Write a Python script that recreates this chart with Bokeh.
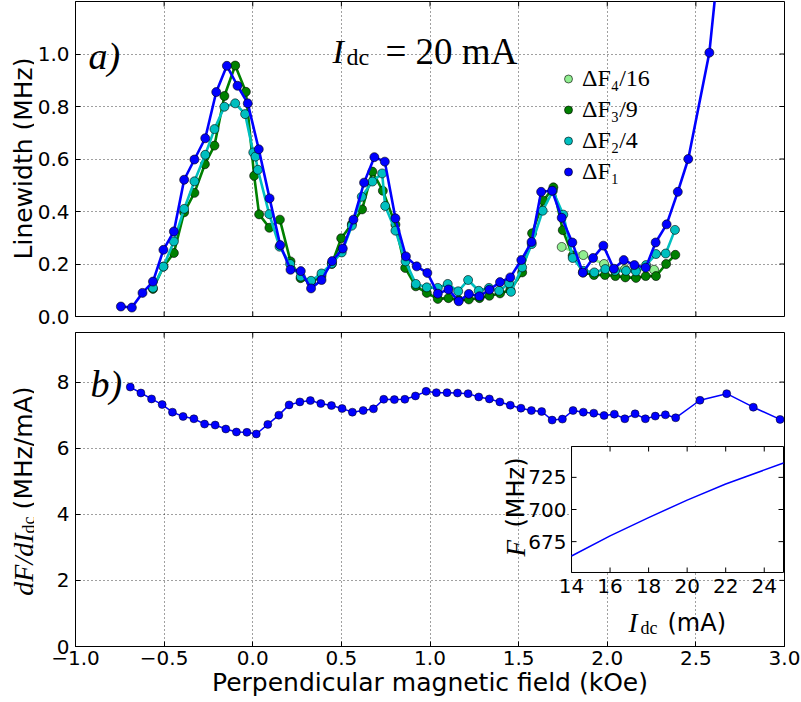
import math
from bokeh.plotting import figure
from bokeh.layouts import column, row
from bokeh.models import (Range1d, FixedTicker, CustomJSTickFormatter,
                          Label, Legend, LegendItem)
from bokeh.core.properties import value
from bokeh.embed import file_html
from bokeh.resources import INLINE

# ---------------- data ----------------
f1_x = [-0.744, -0.682, -0.622, -0.563, -0.504, -0.445, -0.387, -0.329, -0.268, -0.206,
        -0.146, -0.086, -0.028, 0.034, 0.095, 0.155, 0.213, 0.271, 0.329, 0.388,
        0.448, 0.508, 0.568, 0.628, 0.686, 0.745, 0.805, 0.864, 0.925, 0.985,
        1.044, 1.104, 1.162, 1.219, 1.279, 1.335, 1.395, 1.453, 1.515, 1.573,
        1.627, 1.689, 1.743, 1.803, 1.862, 1.920, 1.978, 2.037, 2.093, 2.153,
        2.217, 2.273, 2.335, 2.398, 2.457, 2.576, 2.674]
f1_y = [0.038, 0.034, 0.090, 0.133, 0.254, 0.324, 0.521, 0.598, 0.679, 0.855,
        0.955, 0.879, 0.812, 0.637, 0.450, 0.272, 0.178, 0.173, 0.107, 0.139,
        0.211, 0.259, 0.369, 0.510, 0.607, 0.590, 0.374, 0.229, 0.191, 0.166,
        0.087, 0.103, 0.058, 0.086, 0.077, 0.102, 0.131, 0.149, 0.215, 0.284,
        0.475, 0.479, 0.376, 0.282, 0.167, 0.223, 0.270, 0.182, 0.215, 0.196,
        0.186, 0.282, 0.351, 0.475, 0.600, 1.005, 1.650]
f2_x = [-0.563, -0.504, -0.445, -0.387, -0.329, -0.268, -0.216, -0.160, -0.099, -0.043,
        0.003, 0.015, 0.029, 0.093, 0.151, 0.211, 0.271, 0.329, 0.388, 0.446,
        0.502, 0.559, 0.615, 0.675, 0.730, 0.747, 0.805, 0.862, 0.920, 0.982,
        1.044, 1.100, 1.159, 1.215, 1.275, 1.333, 1.390, 1.446, 1.457, 1.520,
        1.574, 1.636, 1.693, 1.752, 1.805, 1.865, 1.927, 1.989, 2.044, 2.106,
        2.162, 2.219, 2.275, 2.330, 2.382]
f2_y = [0.109, 0.190, 0.286, 0.410, 0.515, 0.616, 0.714, 0.799, 0.812, 0.771,
        0.625, 0.609, 0.559, 0.390, 0.266, 0.200, 0.152, 0.136, 0.164, 0.202,
        0.244, 0.346, 0.456, 0.514, 0.545, 0.421, 0.327, 0.210, 0.124, 0.111,
        0.109, 0.124, 0.096, 0.139, 0.098, 0.109, 0.098, 0.126, 0.094, 0.187,
        0.276, 0.403, 0.479, 0.388, 0.223, 0.174, 0.168, 0.181, 0.174, 0.174,
        0.172, 0.196, 0.238, 0.240, 0.330]
f3_x = [-0.563, -0.504, -0.445, -0.387, -0.329, -0.270, -0.216, -0.160, -0.099, -0.039,
        0.008, 0.036, 0.094, 0.153, 0.213, 0.270, 0.329, 0.388, 0.446, 0.499,
        0.559, 0.617, 0.675, 0.734, 0.805, 0.860, 0.920, 0.982, 1.044, 1.104,
        1.162, 1.219, 1.279, 1.335, 1.395, 1.453, 1.520, 1.576, 1.640, 1.696,
        1.749, 1.805, 1.865, 1.925, 1.987, 2.046, 2.102, 2.162, 2.217, 2.275,
        2.332, 2.384]
f3_y = [0.105, 0.190, 0.242, 0.397, 0.471, 0.580, 0.651, 0.840, 0.956, 0.856,
        0.536, 0.389, 0.338, 0.369, 0.210, 0.146, 0.130, 0.155, 0.200, 0.298,
        0.352, 0.408, 0.552, 0.479, 0.350, 0.185, 0.115, 0.090, 0.067, 0.070,
        0.063, 0.065, 0.070, 0.079, 0.088, 0.101, 0.168, 0.317, 0.441, 0.492,
        0.329, 0.232, 0.168, 0.158, 0.158, 0.154, 0.149, 0.147, 0.154, 0.154,
        0.200, 0.235]
f4_x = [1.743, 1.865, 1.982, 2.100, 2.160, 2.264]
f4_y = [0.265, 0.234, 0.200, 0.180, 0.176, 0.178]

b_x = [-0.691, -0.631, -0.571, -0.511, -0.453, -0.393, -0.332, -0.272, -0.212, -0.152,
       -0.092, -0.033, 0.020, 0.085, 0.147, 0.205, 0.266, 0.325, 0.384, 0.444,
       0.504, 0.562, 0.623, 0.681, 0.739, 0.799, 0.858, 0.918, 0.978, 1.036,
       1.096, 1.155, 1.215, 1.275, 1.335, 1.394, 1.453, 1.513, 1.572, 1.630,
       1.689, 1.747, 1.807, 1.865, 1.924, 1.982, 2.040, 2.099, 2.157, 2.215,
       2.271, 2.328, 2.386, 2.523, 2.674, 2.824, 2.975]
b_y = [7.85, 7.67, 7.49, 7.32, 7.09, 6.96, 6.89, 6.73, 6.70, 6.58,
       6.49, 6.48, 6.43, 6.72, 7.00, 7.31, 7.40, 7.44, 7.35, 7.29,
       7.20, 7.09, 7.14, 7.19, 7.48, 7.47, 7.48, 7.58, 7.72, 7.68,
       7.68, 7.67, 7.65, 7.55, 7.49, 7.40, 7.30, 7.21, 7.14, 7.11,
       6.85, 6.88, 7.14, 7.09, 7.06, 6.99, 7.03, 6.89, 7.04, 6.89,
       6.97, 7.01, 6.92, 7.45, 7.65, 7.24, 6.87]

ins_I = [14, 16, 18, 20, 22, 25]
ins_F = [663.8, 679.5, 693.7, 707.3, 719.8, 736.2]

x_ticks = [-1.0, -0.5, 0.0, 0.5, 1.0, 1.5, 2.0, 2.5, 3.0]
top_y_ticks = [0.0, 0.2, 0.4, 0.6, 0.8, 1.0]
bot_y_ticks = [0, 2, 4, 6, 8]
inset_x_ticks = [14, 16, 18, 20, 22, 24]
inset_y_ticks = [675, 700, 725]
legend_labels = ["\u0394F\u2084/16", "\u0394F\u2083/9", "\u0394F\u2082/4", "\u0394F\u2081"]

# ---------------- style / layout ----------------
SANS = "DejaVu Sans"
SERIF = "Liberation Serif"
TICK_SIZE = "20px"
LABEL_SIZE = "25px"
C_BLUE, C_GREEN, C_CYAN, C_LGREEN = "#0000ff", "#008000", "#00bfbf", "#90ee90"
TICK_PX = 5

X_LIM = (-1.0, 3.0)
TOP_YLIM = (0.0, 1.2)
BOT_YLIM = (0.0, 9.5)
TOTAL_W, TOTAL_H = 801, 702
STRIP_W = 34          # strip holding the y labels, left of both panels
LEFT_B = 41           # left border of each panel (tick labels)
RIGHT_B = 17
PANEL_W = TOTAL_W - STRIP_W
FRAME_W = PANEL_W - LEFT_B - RIGHT_B
TOP_BORDERS = (1, 12)
BOT_BORDERS = (4, 56)
TOP_H = 328
BOT_H = TOTAL_H - TOP_H
TOP_FRAME_H = TOP_H - sum(TOP_BORDERS)
BOT_FRAME_H = BOT_H - sum(BOT_BORDERS)

xfmt = CustomJSTickFormatter(code="return tick.toFixed(1).replace('-', '\u2212');")
yfmt1 = CustomJSTickFormatter(code="return tick.toFixed(1);")


def style(p, xt, yt):
    p.outline_line_color = "black"
    p.outline_line_width = 1
    for ax in p.axis:
        ax.ticker = FixedTicker(ticks=xt if ax in p.below else yt)
        ax.major_tick_in = TICK_PX
        ax.major_tick_out = 0
        ax.minor_tick_in = 0
        ax.minor_tick_out = 0
        ax.axis_line_color = "black"
        ax.major_tick_line_color = "black"
        ax.major_label_text_color = "black"
        ax.major_label_text_font = SANS
        ax.major_label_text_font_size = TICK_SIZE
        ax.major_label_standoff = 6
        ax.axis_label_text_font = SANS
        ax.axis_label_text_font_size = LABEL_SIZE
        ax.axis_label_text_font_style = "normal"
        ax.axis_label_text_color = "black"
    p.xgrid.ticker = FixedTicker(ticks=xt)
    p.ygrid.ticker = FixedTicker(ticks=yt)
    p.grid.grid_line_color = "black"
    p.grid.grid_line_alpha = 0.75
    p.grid.grid_line_dash = "1 3"
    p.grid.grid_line_width = 1


def inner_ticks(p, xt, yt, xlim, ylim, fw, fh, sides, **kw):
    """inward tick marks drawn through the plot's scales"""
    dx = TICK_PX * (xlim[1] - xlim[0]) / fw
    dy = TICK_PX * (ylim[1] - ylim[0]) / fh
    nx, ny = len(xt), len(yt)
    if "bottom" in sides:
        p.segment(x0=xt, y0=[ylim[0]] * nx, x1=xt, y1=[ylim[0] + dy] * nx, line_color="black", **kw)
    if "top" in sides:
        p.segment(x0=xt, y0=[ylim[1]] * nx, x1=xt, y1=[ylim[1] - dy] * nx, line_color="black", **kw)
    if "left" in sides:
        p.segment(x0=[xlim[0]] * ny, y0=yt, x1=[xlim[0] + dx] * ny, y1=yt, line_color="black", **kw)
    if "right" in sides:
        p.segment(x0=[xlim[1]] * ny, y0=yt, x1=[xlim[1] - dx] * ny, y1=yt, line_color="black", **kw)


def lab(p, x, y, text, font=SERIF, size="34px", style_="normal", angle=0.0, align="left"):
    p.add_layout(Label(x=x, y=y, x_units="screen", y_units="screen", text=text,
                       text_font=font, text_font_size=size, text_font_style=style_,
                       text_color="black", text_baseline="alphabetic", text_align=align,
                       angle=angle))


# ---------------- panel a) ----------------
p1 = figure(width=PANEL_W, height=TOP_H, x_range=Range1d(*X_LIM), y_range=Range1d(*TOP_YLIM),
            output_backend="svg", toolbar_location=None, title=None, x_axis_location=None,
            min_border_left=LEFT_B, min_border_right=RIGHT_B,
            min_border_top=TOP_BORDERS[0], min_border_bottom=TOP_BORDERS[1])
style(p1, x_ticks, top_y_ticks)
p1.left[0].formatter = yfmt1
inner_ticks(p1, x_ticks, top_y_ticks, X_LIM, TOP_YLIM, FRAME_W, TOP_FRAME_H, ("bottom", "top", "right"))

renderers = []
for xs, ys, col in [(f4_x, f4_y, C_LGREEN), (f3_x, f3_y, C_GREEN),
                    (f2_x, f2_y, C_CYAN), (f1_x, f1_y, C_BLUE)]:
    p1.line(xs, ys, line_color=col, line_width=2.6)
    r = p1.scatter(xs, ys, size=9, fill_color=col, line_color="black", line_width=0.6)
    renderers.append(r)

legend = Legend(items=[LegendItem(label=t, renderers=[r]) for t, r in zip(legend_labels, renderers)],
                location=(483, 131), orientation="vertical",
                background_fill_alpha=0, border_line_alpha=0, padding=0, margin=0,
                spacing=4, glyph_width=20, glyph_height=27, label_height=27,
                label_standoff=4, label_text_font=SERIF, label_text_font_size="24px",
                label_text_color="black")
p1.add_layout(legend)

lab(p1, 13, 261, "a)", size="38px", style_="italic")
lab(p1, 257, 265, "I", size="34px", style_="italic")
lab(p1, 271, 260, "dc", size="24px")
lab(p1, 310, 265, "= 20 mA", size="37px")

# ---------------- panel b) ----------------
p2 = figure(width=PANEL_W, height=BOT_H, x_range=p1.x_range, y_range=Range1d(*BOT_YLIM),
            output_backend="svg", toolbar_location=None, title=None,
            min_border_left=LEFT_B, min_border_right=RIGHT_B,
            min_border_top=BOT_BORDERS[0], min_border_bottom=BOT_BORDERS[1])
style(p2, x_ticks, bot_y_ticks)
p2.below[0].formatter = xfmt
p2.below[0].axis_label = "Perpendicular magnetic field (kOe)"
p2.below[0].major_label_standoff = 4
p2.below[0].axis_label_standoff = 0
inner_ticks(p2, x_ticks, bot_y_ticks, X_LIM, BOT_YLIM, FRAME_W, BOT_FRAME_H, ("top", "right"))

p2.line(b_x, b_y, line_color=C_BLUE, line_width=1.5)
p2.scatter(b_x, b_y, size=8, fill_color=C_BLUE, line_color="black", line_width=0.5)

lab(p2, 15, 263, "b)", size="38px", style_="italic")

# ---------------- inset (own ranges inside panel b) ----------------
ins_xlim = (14, 25)
ins_ylim = (651, 749)
ins_box = (0.6996, 0.9986, 0.2357, 0.6369)   # left, right, bottom, top (fractions of frame)


def outer(lim, f0, f1):
    span = (lim[1] - lim[0]) / (f1 - f0)
    start = lim[0] - f0 * span
    return Range1d(start, start + span)


p2.extra_x_ranges = {"ix": outer(ins_xlim, ins_box[0], ins_box[1])}
p2.extra_y_ranges = {"iy": outer(ins_ylim, ins_box[2], ins_box[3])}
kw = dict(x_range_name="ix", y_range_name="iy")

p2.quad(left=[ins_xlim[0]], right=[ins_xlim[1]], bottom=[ins_ylim[0]], top=[ins_ylim[1]],
        fill_color="white", line_color="black", line_width=1, **kw)
p2.line(ins_I, ins_F, line_color=C_BLUE, line_width=1.5, **kw)
inner_ticks(p2, inset_x_ticks, inset_y_ticks, ins_xlim, ins_ylim,
            FRAME_W * (ins_box[1] - ins_box[0]), BOT_FRAME_H * (ins_box[3] - ins_box[2]),
            ("bottom", "top", "left", "right"), **kw)
p2.text(x=inset_x_ticks, y=[ins_ylim[0]] * len(inset_x_ticks), text=[str(t) for t in inset_x_ticks],
        text_align="center", text_baseline="top", y_offset=7,
        text_font=value(SANS), text_font_size=TICK_SIZE, text_color="black", **kw)
p2.text(x=[ins_xlim[0]] * len(inset_y_ticks), y=inset_y_ticks, text=[str(t) for t in inset_y_ticks],
        text_align="right", text_baseline="middle", x_offset=-5,
        text_font=value(SANS), text_font_size=TICK_SIZE, text_color="black", **kw)

lab(p2, 553, 24, "I", size="27px", style_="italic")
lab(p2, 565, 19, "dc", size="18px")
lab(p2, 592, 24, "(mA)", font=SANS, size="24px")
lab(p2, 440, 90, "F", size="27px", style_="italic", angle=math.pi / 2)
lab(p2, 440, 119, "(MHz)", font=SANS, size="24px", angle=math.pi / 2)

# ---------------- strip with both y labels (frame = whole strip) ----------------
p0 = figure(width=STRIP_W, height=TOTAL_H, x_range=Range1d(0, 1), y_range=Range1d(0, 1),
            output_backend="svg", toolbar_location=None, title=None,
            x_axis_location=None, y_axis_location=None,
            min_border_left=0, min_border_right=0, min_border_top=0, min_border_bottom=0)
p0.outline_line_color = None
p0.grid.visible = False
# y positions measured upward from the strip's bottom edge
lab(p0, 23, TOTAL_H - 158, "Linewidth (MHz)", font=SANS, size=LABEL_SIZE, angle=math.pi / 2, align="center")
lab(p0, 23, TOTAL_H - 386, "(MHz/mA)", font=SANS, size=LABEL_SIZE, angle=math.pi / 2, align="right")
lab(p0, 28, TOTAL_H - 516, "dc", size="18px", angle=math.pi / 2, align="right")
lab(p0, 23, TOTAL_H - 533, "dF/dI", size="28px", style_="italic", angle=math.pi / 2, align="right")

layout = row(p0, column(p1, p2, spacing=0), spacing=0)
open("out.html", "w").write(file_html(layout, INLINE))
